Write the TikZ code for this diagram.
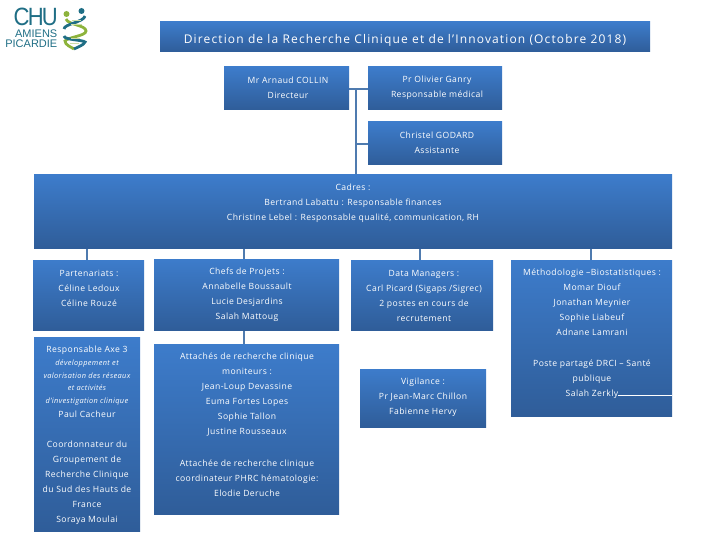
\documentclass[tikz,border=0pt]{standalone}
\usepackage{fontspec}
\setmainfont[LetterSpace=5]{Open Sans}
\newfontfamily\logofont{Liberation Sans}
\newfontfamily\chufont[LetterSpace=-8]{Liberation Sans}
\newfontfamily\titlefont[LetterSpace=9.5]{Open Sans}
\usetikzlibrary{calc}
\definecolor{boxtop}{HTML}{3D7CCB}
\definecolor{boxbot}{HTML}{2F5D99}
\definecolor{linkc}{HTML}{4F7BAF}
\definecolor{chuteal}{HTML}{1F6E85}
\definecolor{chugreen}{HTML}{8DB33C}
\newcommand{\bx}[5]{% name, x1, y1, x2, y2
  \path[top color=boxtop,bottom color=boxbot] (#2,#3) rectangle (#4,#5);
  \coordinate (#1) at ({(#2+#4)/2},{(#3+#5)/2});
}
\tikzset{
  x=1pt,y=-1pt,
  lbl/.style={text=white,font=\fontsize{8.6}{15}\selectfont,align=center,inner sep=0pt,anchor=north,yshift=-4pt},
  link/.style={draw=linkc,line width=2.2pt},
}
\begin{document}
\begin{tikzpicture}
\useasboundingbox (0,0) rectangle (720,540);
% connectors
\coordinate (tr1) at (356,89);
\coordinate (tr2) at (356,144);
\coordinate (tr3) at (356,175);
\draw[link] (349,89) -- (368,89);
\draw[link] (tr1) -- (tr3);
\draw[link] (tr2) -- (368,144);
\draw[link] (87,248) -- (87,260);
\draw[link] (244,248) -- (244,259);
\draw[link] (420,248) -- (420,260);
\draw[link] (591,248) -- (591,260);
\draw[link] (244,330) -- (244,344);
% boxes
\bx{title}{160}{22}{650}{52}
\bx{colun}{224}{67}{349}{110}
\bx{ganry}{368}{67}{502}{110}
\bx{godard}{368}{122}{502}{165}
\bx{cadres}{34}{175}{672}{248}
\bx{part}{33}{260}{144}{330}
\bx{chefs}{154}{259}{339}{330}
\bx{data}{351}{260}{493}{330}
\bx{method}{511}{260}{672}{416}
\bx{axe}{34}{337}{140}{531}
\bx{arc}{154}{344}{339}{514}
\bx{vigil}{360}{369}{486}{427}
\draw[white,line width=.7pt] (618,395) -- (672,395);
% text
\node[lbl,font=\fontsize{12}{15}\selectfont\titlefont] (t0) at (405,30) {Direction de la Recherche Clinique et de l’Innovation (Octobre 2018)};
\node[lbl] (t1) at (288,73) {Mr Arnaud COLLIN\\Directeur};
\node[lbl] (t2) at (437,72) {Pr Olivier Ganry\\Responsable médical};
\node[lbl] (t3) at (437,128) {Christel GODARD\\Assistante};
\node[lbl] (t4) at (353,180) {Cadres :\\Bertrand Labattu : Responsable finances\\Christine Lebel : Responsable qualité, communication, RH};
\node[lbl] (t5) at (89,266) {Partenariats :\\Céline Ledoux\\Céline Rouzé};
\node[lbl] (t6) at (247,264) {Chefs de Projets :\\Annabelle Boussault\\Lucie Desjardins\\Salah Mattoug};
\node[lbl] (t7) at (424,266) {Data Managers :\\Carl Picard (Sigaps /Sigrec)\\2 postes en cours de\\recrutement};
\node[lbl] (t8) at (592,265) {Méthodologie –Biostatistiques :\\Momar Diouf\\Jonathan Meynier\\Sophie Liabeuf\\Adnane Lamrani};
\node[lbl] (t9) at (592,356) {Poste partagé DRCI – Santé\\publique\\Salah Zerkly};
\node[lbl] (t10) at (423,374) {Vigilance :\\Pr Jean-Marc Chillon\\Fabienne Hervy};
\node[lbl] (t11) at (87,342) {Responsable Axe 3};
\node[lbl,font=\fontsize{7.4}{12.7}\selectfont\itshape] (t12) at (87,355.5) {développement et\\valorisation des réseaux\\et activités\\d’investigation clinique};
\node[lbl] (t13) at (87,407) {Paul Cacheur};
\node[lbl] (t14) at (87,437) {Coordonnateur du\\Groupement de\\Recherche Clinique\\du Sud des Hauts de\\France\\Soraya Moulai};
\node[lbl] (t15) at (247,349) {Attachés de recherche clinique\\moniteurs :\\Jean-Loup Devassine\\Euma Fortes Lopes\\Sophie Tallon\\Justine Rousseaux};
\node[lbl] (t16) at (247,456) {Attachée de recherche clinique\\coordinateur PHRC hématologie:\\Elodie Deruche};
% logo
\node[text=chuteal,inner sep=0pt,anchor=east] (chu) at (58,16.5) {\scalebox{.88}[1]{\fontsize{25}{25}\selectfont\chufont CHU}};
\node[text=chuteal,font=\fontsize{11}{10.5}\selectfont\logofont,align=right,inner sep=0pt,anchor=north east] (amiens) at (57.5,29.5) {AMIENS\\PICARDIE};
\draw[chugreen,line width=2.8pt] (66,19) .. controls (68,25) and (86,25) .. (86,31) .. controls (86,36) and (68,37) .. (65,41) .. controls (65,45) and (71,47) .. (74,49);
\draw[chuteal,line width=2.8pt] (85,16) .. controls (84,22) and (64,24) .. (64,29);
\draw[chuteal,line width=2.8pt] (64,36) .. controls (64,40) and (84,40) .. (85,42) .. controls (84,45) and (78,47) .. (74,49);
\fill[chugreen] (66.5,14) circle (3);
\fill[chuteal] (81.5,11) circle (3);
\draw[chugreen!45,line width=.8pt] (72,20) -- (81,20) (71,24.5) -- (82,24.5) (71,38.5) -- (80,38.5) (70,43) -- (79,43);
\end{tikzpicture}
\end{document}
